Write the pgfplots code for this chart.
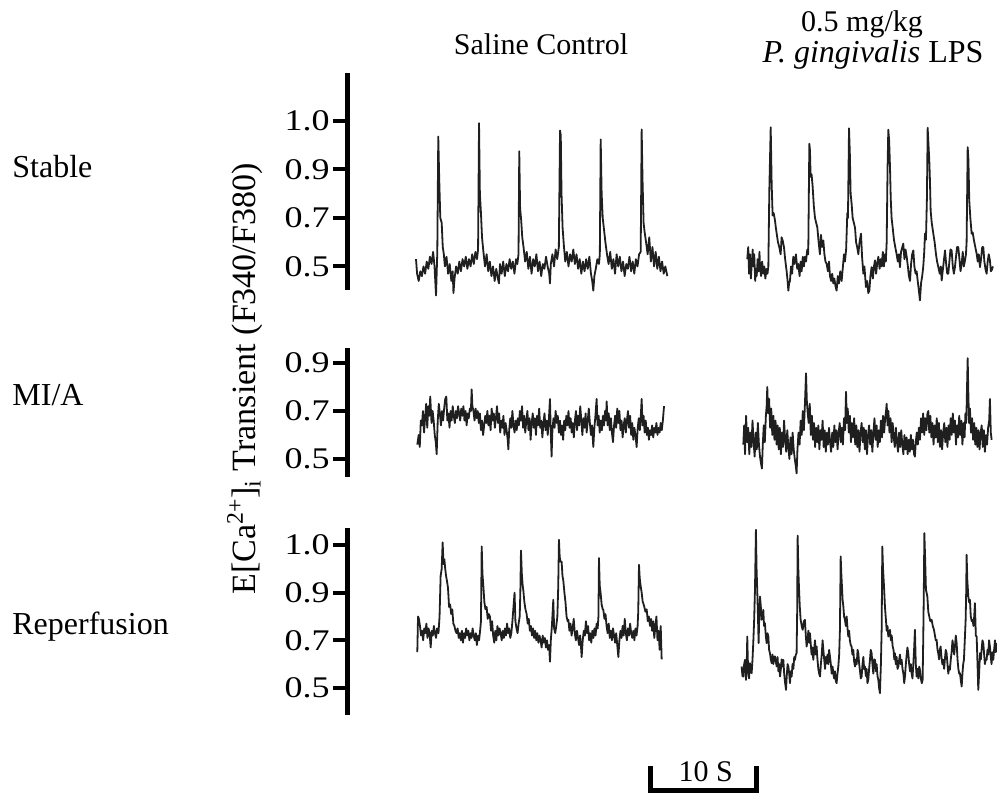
\documentclass[border=0pt]{standalone}
\usepackage{fontspec}
\setmainfont{Liberation Serif}
\newfontfamily\tickfont[FakeStretch=1.2]{Liberation Serif}
\usepackage{pgfplots}
\usepackage{pgfplotstable}
\pgfplotsset{compat=1.18}

% Stable, saline control
\pgfplotstableread{
t v
6.45 0.53
6.55 0.47
6.70 0.44
6.85 0.48
7.00 0.46
7.15 0.50
7.30 0.47
7.45 0.52
7.60 0.49
7.75 0.54
7.90 0.51
8.05 0.56
8.18 0.50
8.32 0.38
8.44 0.56
8.53 1.036
8.62 0.86
8.72 0.70
8.85 0.68
8.95 0.58
9.05 0.55
9.15 0.50
9.30 0.54
9.45 0.47
9.60 0.51
9.75 0.44
9.88 0.48
9.95 0.39
10.05 0.45
10.20 0.50
10.35 0.47
10.50 0.52
10.65 0.48
10.80 0.53
10.95 0.50
11.10 0.54
11.25 0.49
11.40 0.53
11.55 0.50
11.70 0.55
11.85 0.51
12.00 0.56
12.15 0.53
12.25 0.57
12.34 1.091
12.42 0.80
12.52 0.72
12.62 0.62
12.75 0.56
12.90 0.50
13.05 0.55
13.20 0.48
13.35 0.52
13.50 0.46
13.65 0.50
13.80 0.44
13.95 0.49
14.10 0.45
14.20 0.43
14.30 0.51
14.45 0.47
14.60 0.52
14.75 0.46
14.90 0.51
15.05 0.48
15.20 0.53
15.35 0.49
15.50 0.52
15.65 0.47
15.80 0.53
15.92 0.51
16.03 0.55
16.10 0.975
16.18 0.74
16.28 0.69
16.38 0.62
16.50 0.58
16.65 0.52
16.80 0.56
16.95 0.49
17.10 0.54
17.25 0.47
17.40 0.53
17.55 0.50
17.70 0.55
17.85 0.48
18.00 0.52
18.15 0.46
18.30 0.51
18.45 0.49
18.60 0.54
18.75 0.50
18.90 0.47
18.97 0.43
19.05 0.51
19.20 0.55
19.35 0.50
19.50 0.57
19.65 0.53
19.80 0.58
19.91 1.061
19.98 1.04
20.05 0.80
20.15 0.66
20.28 0.58
20.40 0.52
20.55 0.56
20.70 0.50
20.85 0.55
21.00 0.52
21.15 0.57
21.30 0.51
21.45 0.55
21.60 0.49
21.75 0.53
21.90 0.47
22.05 0.52
22.20 0.48
22.35 0.53
22.50 0.49
22.65 0.54
22.80 0.47
22.92 0.44
23.02 0.40
23.12 0.46
23.25 0.49
23.40 0.53
23.55 0.51
23.63 0.55
23.71 1.024
23.80 0.80
23.90 0.70
24.00 0.66
24.15 0.60
24.30 0.55
24.45 0.51
24.60 0.56
24.75 0.49
24.90 0.53
25.05 0.47
25.20 0.55
25.35 0.50
25.50 0.54
25.65 0.48
25.80 0.52
25.95 0.46
26.10 0.51
26.25 0.49
26.40 0.54
26.55 0.48
26.70 0.52
26.85 0.47
27.00 0.53
27.15 0.50
27.30 0.55
27.45 0.56
27.54 1.065
27.62 0.86
27.72 0.68
27.82 0.64
27.95 0.60
28.10 0.55
28.25 0.62
28.40 0.52
28.55 0.58
28.70 0.50
28.85 0.56
29.00 0.49
29.15 0.54
29.30 0.48
29.45 0.52
29.60 0.47
29.75 0.50
29.94 0.46
}\trA

% Stable, P. gingivalis LPS
\pgfplotstableread{
t v
37.41 0.53
37.50 0.58
37.58 0.47
37.66 0.55
37.75 0.45
37.84 0.52
37.92 0.57
37.97 0.50
38.06 0.55
38.15 0.44
38.22 0.49
38.29 0.46
38.38 0.53
38.47 0.48
38.55 0.56
38.60 0.50
38.70 0.46
38.80 0.52
38.91 0.47
39.00 0.50
39.10 0.45
39.22 0.49
39.30 0.47
39.38 0.50
39.47 0.81
39.60 1.074
39.69 0.84
39.78 0.71
39.88 0.72
40.00 0.69
40.08 0.66
40.16 0.635
40.28 0.60
40.40 0.58
40.53 0.55
40.62 0.62
40.72 0.607
40.84 0.58
40.95 0.53
41.09 0.48
41.18 0.44
41.25 0.40
41.32 0.43
41.40 0.44
41.50 0.50
41.60 0.47
41.71 0.54
41.82 0.51
41.96 0.55
42.08 0.49
42.18 0.51
42.30 0.46
42.40 0.52
42.49 0.48
42.60 0.54
42.70 0.50
42.80 0.54
42.90 0.52
43.02 0.57
43.11 0.55
43.21 1.006
43.27 0.98
43.33 0.87
43.42 0.88
43.52 0.83
43.63 0.75
43.74 0.70
43.85 0.68
43.96 0.66
44.08 0.60
44.20 0.55
44.30 0.63
44.40 0.58
44.52 0.607
44.62 0.55
44.72 0.52
44.83 0.51
44.95 0.48
45.05 0.52
45.14 0.46
45.25 0.44
45.35 0.47
45.45 0.43
45.55 0.45
45.65 0.42
45.76 0.40
45.87 0.46
45.98 0.43
46.10 0.48
46.23 0.44
46.35 0.50
46.45 0.55
46.54 0.52
46.65 0.57
46.76 0.72
46.82 0.70
46.92 1.070
47.00 0.96
47.07 0.80
47.16 0.76
47.26 0.70
47.37 0.68
47.48 0.66
47.58 0.60
47.68 0.58
47.79 0.55
47.90 0.60
48.04 0.635
48.14 0.54
48.26 0.47
48.36 0.50
48.50 0.415
48.62 0.44
48.72 0.39
48.82 0.40
48.92 0.46
49.03 0.497
49.15 0.45
49.25 0.50
49.35 0.525
49.45 0.47
49.55 0.51
49.66 0.54
49.78 0.49
49.88 0.53
49.97 0.50
50.08 0.56
50.18 0.50
50.28 0.55
50.36 0.52
50.44 0.60
50.52 0.90
50.59 1.064
50.67 1.02
50.75 0.91
50.82 0.78
50.90 0.70
51.00 0.66
51.12 0.61
51.24 0.58
51.37 0.55
51.48 0.52
51.58 0.55
51.68 0.497
51.78 0.56
51.90 0.58
51.99 0.594
52.10 0.53
52.20 0.57
52.31 0.54
52.42 0.50
52.52 0.46
52.62 0.44
52.72 0.51
52.82 0.55
52.93 0.566
53.03 0.50
53.14 0.47
53.24 0.48
53.34 0.44
53.45 0.40
53.55 0.36
53.65 0.43
53.76 0.46
53.86 0.50
53.95 0.56
54.02 0.635
54.11 0.61
54.20 0.78
54.27 1.072
54.35 1.00
54.42 0.94
54.48 0.86
54.55 0.73
54.65 0.68
54.80 0.635
54.92 0.60
55.05 0.55
55.15 0.52
55.27 0.497
55.40 0.47
55.50 0.50
55.58 0.442
55.70 0.49
55.80 0.53
55.89 0.566
56.00 0.51
56.10 0.47
56.20 0.47
56.30 0.52
56.40 0.57
56.51 0.566
56.62 0.50
56.72 0.47
56.82 0.497
56.92 0.54
57.02 0.58
57.13 0.58
57.24 0.53
57.34 0.48
57.45 0.511
57.55 0.56
57.65 0.50
57.76 0.525
57.85 0.55
57.91 0.60
58.01 0.992
58.08 0.94
58.16 0.77
58.26 0.70
58.38 0.635
58.48 0.64
58.60 0.607
58.72 0.58
58.85 0.552
58.95 0.52
59.05 0.55
59.16 0.497
59.26 0.53
59.37 0.58
59.47 0.58
59.57 0.52
59.67 0.49
59.78 0.47
59.88 0.52
59.98 0.55
60.09 0.525
60.18 0.48
60.25 0.484
60.37 0.50
}\trB

% MI/A, saline control
\pgfplotstableread{
t v
6.57 0.56
6.70 0.60
6.80 0.55
6.90 0.66
7.00 0.64
7.10 0.70
7.20 0.61
7.30 0.67
7.40 0.73
7.50 0.63
7.60 0.72
7.70 0.68
7.78 0.76
7.90 0.65
8.00 0.70
8.10 0.66
8.20 0.60
8.30 0.57
8.38 0.52
8.48 0.66
8.58 0.73
8.68 0.69
8.78 0.64
8.88 0.70
8.98 0.66
9.08 0.71
9.18 0.75
9.28 0.76
9.38 0.66
9.48 0.69
9.58 0.63
9.68 0.70
9.78 0.66
9.88 0.72
9.98 0.68
10.08 0.65
10.18 0.70
10.28 0.67
10.38 0.72
10.48 0.69
10.58 0.66
10.68 0.71
10.78 0.68
10.88 0.72
10.98 0.66
11.08 0.70
11.18 0.64
11.28 0.69
11.38 0.67
11.48 0.71
11.58 0.70
11.65 0.79
11.72 0.72
11.82 0.70
11.92 0.66
12.02 0.71
12.12 0.67
12.22 0.70
12.32 0.65
12.42 0.69
12.52 0.62
12.62 0.66
12.72 0.60
12.82 0.64
12.92 0.68
13.02 0.65
13.12 0.70
13.22 0.64
13.32 0.68
13.42 0.62
13.52 0.71
13.62 0.66
13.72 0.69
13.82 0.63
13.92 0.67
14.02 0.72
14.12 0.65
14.22 0.69
14.32 0.61
14.42 0.66
14.52 0.63
14.62 0.68
14.72 0.60
14.82 0.65
14.92 0.62
15.02 0.58
15.08 0.54
15.16 0.62
15.26 0.67
15.36 0.63
15.46 0.70
15.56 0.64
15.66 0.61
15.76 0.66
15.86 0.62
15.96 0.67
16.06 0.64
16.16 0.70
16.26 0.66
16.36 0.72
16.46 0.63
16.56 0.68
16.66 0.61
16.76 0.66
16.86 0.70
16.96 0.62
17.06 0.67
17.16 0.58
17.26 0.65
17.36 0.69
17.46 0.63
17.56 0.67
17.66 0.60
17.76 0.68
17.86 0.64
17.96 0.71
18.06 0.63
18.16 0.66
18.26 0.59
18.36 0.65
18.46 0.69
18.56 0.62
18.66 0.66
18.76 0.60
18.86 0.66
18.97 0.75
19.04 0.62
19.12 0.51
19.20 0.62
19.30 0.67
19.40 0.63
19.50 0.70
19.60 0.65
19.70 0.68
19.80 0.61
19.90 0.66
20.00 0.60
20.10 0.64
20.20 0.58
20.30 0.66
20.40 0.62
20.50 0.68
20.60 0.64
20.70 0.70
20.80 0.63
20.90 0.67
21.00 0.61
21.10 0.65
21.20 0.59
21.30 0.66
21.40 0.70
21.50 0.62
21.60 0.68
21.70 0.64
21.80 0.72
21.90 0.66
22.00 0.60
22.10 0.67
22.20 0.63
22.30 0.69
22.40 0.61
22.50 0.66
22.60 0.71
22.70 0.65
22.80 0.60
22.90 0.64
23.02 0.55
23.12 0.63
23.22 0.68
23.33 0.75
23.42 0.64
23.52 0.68
23.62 0.61
23.72 0.66
23.82 0.62
23.92 0.68
24.02 0.64
24.12 0.70
24.20 0.66
24.27 0.74
24.36 0.64
24.46 0.69
24.56 0.62
24.66 0.67
24.76 0.61
24.86 0.57
24.96 0.64
25.06 0.68
25.16 0.63
25.26 0.71
25.36 0.65
25.46 0.70
25.56 0.62
25.66 0.66
25.76 0.59
25.86 0.64
25.96 0.67
26.06 0.61
26.16 0.66
26.26 0.70
26.36 0.63
26.46 0.68
26.56 0.60
26.66 0.65
26.76 0.58
26.86 0.63
26.96 0.60
27.07 0.55
27.17 0.63
27.27 0.67
27.37 0.62
27.46 0.68
27.54 0.75
27.62 0.64
27.72 0.68
27.82 0.61
27.92 0.66
28.02 0.60
28.12 0.63
28.22 0.58
28.32 0.62
28.42 0.60
28.52 0.64
28.62 0.59
28.72 0.63
28.82 0.61
28.92 0.65
29.02 0.60
29.12 0.63
29.22 0.61
29.32 0.65
29.42 0.62
29.52 0.66
29.63 0.72
}\trC

% MI/A, P. gingivalis LPS
\pgfplotstableread{
t v
37.04 0.56
37.12 0.64
37.20 0.52
37.30 0.68
37.40 0.57
37.50 0.63
37.60 0.52
37.70 0.61
37.80 0.55
37.90 0.66
38.00 0.57
38.10 0.51
38.20 0.61
38.30 0.54
38.40 0.65
38.50 0.56
38.60 0.51
38.70 0.48
38.78 0.46
38.86 0.56
38.95 0.64
39.05 0.57
39.15 0.68
39.22 0.72
39.28 0.80
39.36 0.69
39.45 0.75
39.55 0.63
39.65 0.71
39.75 0.60
39.85 0.68
39.95 0.58
40.05 0.66
40.15 0.56
40.25 0.64
40.35 0.54
40.45 0.63
40.55 0.52
40.65 0.61
40.75 0.55
40.85 0.66
40.95 0.58
41.05 0.53
41.15 0.62
41.25 0.55
41.35 0.50
41.45 0.59
41.55 0.52
41.65 0.61
41.75 0.54
41.85 0.50
41.95 0.47
42.02 0.44
42.10 0.54
42.20 0.61
42.30 0.56
42.40 0.66
42.50 0.60
42.60 0.70
42.70 0.62
42.80 0.73
42.90 0.857
42.98 0.74
43.06 0.69
43.15 0.65
43.25 0.73
43.35 0.60
43.45 0.68
43.55 0.58
43.65 0.65
43.75 0.55
43.85 0.63
43.95 0.57
44.05 0.64
44.15 0.54
44.25 0.62
44.35 0.58
44.45 0.66
44.55 0.55
44.65 0.62
44.75 0.53
44.85 0.61
44.95 0.56
45.05 0.63
45.15 0.57
45.25 0.53
45.35 0.61
45.45 0.55
45.55 0.64
45.65 0.57
45.75 0.62
45.85 0.54
45.95 0.61
46.05 0.65
46.15 0.57
46.25 0.63
46.35 0.56
46.45 0.67
46.55 0.62
46.64 0.78
46.72 0.65
46.80 0.71
46.90 0.61
47.00 0.68
47.10 0.57
47.20 0.65
47.30 0.59
47.40 0.67
47.50 0.56
47.60 0.64
47.70 0.55
47.80 0.62
47.90 0.53
48.00 0.61
48.10 0.65
48.20 0.57
48.30 0.63
48.40 0.54
48.50 0.62
48.60 0.52
48.70 0.60
48.80 0.64
48.90 0.56
49.00 0.62
49.10 0.53
49.20 0.61
49.30 0.67
49.40 0.58
49.50 0.64
49.60 0.55
49.70 0.62
49.80 0.57
49.90 0.66
50.00 0.59
50.10 0.68
50.20 0.61
50.30 0.67
50.38 0.70
50.44 0.73
50.52 0.64
50.60 0.70
50.70 0.61
50.80 0.67
50.90 0.57
51.00 0.65
51.10 0.59
51.20 0.55
51.30 0.63
51.40 0.57
51.50 0.53
51.60 0.61
51.70 0.55
51.80 0.62
51.90 0.56
52.00 0.52
52.10 0.60
52.20 0.54
52.30 0.59
52.40 0.52
52.50 0.58
52.60 0.53
52.70 0.60
52.80 0.54
52.90 0.58
53.00 0.52
53.08 0.51
53.16 0.57
53.25 0.61
53.35 0.56
53.45 0.63
53.55 0.58
53.65 0.67
53.75 0.61
53.85 0.69
53.95 0.60
54.05 0.67
54.15 0.62
54.25 0.69
54.33 0.70
54.42 0.61
54.52 0.68
54.62 0.59
54.72 0.65
54.82 0.56
54.92 0.64
55.02 0.59
55.12 0.67
55.22 0.57
55.32 0.65
55.42 0.55
55.52 0.62
55.62 0.54
55.72 0.61
55.82 0.65
55.92 0.57
56.02 0.63
56.12 0.55
56.22 0.64
56.32 0.58
56.42 0.67
56.52 0.60
56.62 0.69
56.72 0.61
56.82 0.66
56.92 0.56
57.02 0.64
57.12 0.59
57.22 0.68
57.32 0.60
57.42 0.66
57.52 0.56
57.62 0.65
57.72 0.59
57.80 0.69
57.88 0.65
57.95 0.80
58.01 0.92
58.07 0.78
58.14 0.65
58.22 0.71
58.32 0.61
58.42 0.67
58.52 0.58
58.62 0.65
58.72 0.56
58.82 0.63
58.92 0.55
59.02 0.62
59.12 0.54
59.22 0.61
59.32 0.64
59.42 0.55
59.52 0.62
59.62 0.53
59.72 0.60
59.82 0.56
59.92 0.63
60.02 0.66
60.09 0.75
60.17 0.61
60.25 0.58
}\trD

% Reperfusion, saline control
\pgfplotstableread{
t v
6.57 0.65
6.64 0.80
6.72 0.79
6.82 0.76
6.92 0.72
7.02 0.74
7.12 0.70
7.22 0.75
7.32 0.73
7.42 0.77
7.52 0.71
7.62 0.75
7.72 0.73
7.82 0.67
7.92 0.74
8.02 0.72
8.12 0.76
8.22 0.73
8.32 0.71
8.42 0.75
8.55 0.73
8.65 0.80
8.75 0.97
8.85 1.00
8.94 1.111
9.02 1.02
9.10 1.04
9.18 1.00
9.26 0.97
9.34 0.95
9.44 0.92
9.54 0.84
9.64 0.85
9.74 0.81
9.84 0.83
9.94 0.77
10.04 0.76
10.14 0.74
10.24 0.73
10.34 0.75
10.44 0.71
10.54 0.73
10.64 0.70
10.74 0.74
10.84 0.69
10.94 0.73
11.04 0.71
11.14 0.75
11.24 0.72
11.34 0.74
11.44 0.70
11.54 0.73
11.64 0.71
11.74 0.75
11.84 0.72
11.94 0.70
12.04 0.73
12.14 0.68
12.24 0.72
12.34 0.70
12.44 0.74
12.52 0.78
12.59 1.094
12.66 0.98
12.74 0.93
12.84 0.86
12.94 0.83
13.05 0.84
13.15 0.79
13.26 0.81
13.36 0.80
13.46 0.74
13.56 0.78
13.66 0.72
13.76 0.69
13.86 0.74
13.96 0.70
14.06 0.76
14.16 0.72
14.26 0.75
14.36 0.73
14.46 0.70
14.56 0.74
14.66 0.71
14.76 0.75
14.86 0.72
14.96 0.77
15.06 0.73
15.16 0.75
15.26 0.71
15.36 0.73
15.46 0.78
15.56 0.84
15.66 0.90
15.74 0.78
15.84 0.75
15.94 0.73
16.04 0.77
16.14 0.80
16.20 0.90
16.26 1.077
16.34 0.98
16.42 0.93
16.48 0.91
16.58 0.86
16.68 0.83
16.79 0.81
16.89 0.77
16.99 0.79
17.09 0.74
17.19 0.76
17.29 0.72
17.39 0.75
17.49 0.71
17.59 0.74
17.69 0.70
17.79 0.73
17.89 0.69
17.99 0.72
18.09 0.70
18.19 0.67
18.29 0.72
18.39 0.69
18.49 0.71
18.59 0.67
18.69 0.70
18.79 0.66
18.89 0.68
18.97 0.61
19.05 0.70
19.15 0.76
19.28 0.87
19.36 0.75
19.46 0.73
19.56 0.76
19.66 0.80
19.74 0.92
19.81 1.122
19.88 1.05
19.96 1.03
20.06 1.03
20.14 0.97
20.22 0.95
20.32 0.90
20.42 0.86
20.52 0.80
20.62 0.78
20.69 0.786
20.79 0.74
20.89 0.77
20.99 0.72
21.09 0.75
21.19 0.79
21.29 0.73
21.39 0.70
21.49 0.74
21.59 0.71
21.69 0.68
21.79 0.72
21.89 0.66
21.93 0.63
22.03 0.70
22.13 0.74
22.23 0.72
22.33 0.78
22.43 0.73
22.53 0.76
22.63 0.70
22.73 0.73
22.83 0.69
22.93 0.74
23.03 0.71
23.13 0.75
23.23 0.72
23.33 0.77
23.43 0.75
23.50 0.80
23.55 1.045
23.62 0.93
23.70 0.90
23.80 0.85
23.90 0.83
23.96 0.828
24.06 0.79
24.16 0.81
24.26 0.76
24.36 0.73
24.46 0.77
24.56 0.71
24.66 0.74
24.76 0.70
24.86 0.75
24.96 0.72
25.06 0.69
25.16 0.73
25.26 0.68
25.36 0.63
25.46 0.70
25.56 0.74
25.66 0.71
25.76 0.76
25.86 0.72
25.96 0.79
26.06 0.73
26.16 0.70
26.26 0.75
26.36 0.72
26.46 0.77
26.56 0.73
26.66 0.71
26.76 0.74
26.86 0.70
26.96 0.75
27.06 0.72
27.16 0.76
27.22 0.82
27.29 1.017
27.36 0.96
27.44 0.93
27.54 0.90
27.64 0.86
27.69 0.856
27.79 0.84
27.89 0.82
28.01 0.83
28.11 0.78
28.21 0.80
28.32 0.76
28.42 0.79
28.52 0.74
28.62 0.78
28.72 0.71
28.82 0.76
28.92 0.80
29.02 0.70
29.12 0.74
29.22 0.66
29.32 0.76
29.41 0.62
}\trE

% Reperfusion, P. gingivalis LPS
\pgfplotstableread{
t v
36.88 0.590
36.96 0.55
37.04 0.548
37.12 0.60
37.20 0.618
37.29 0.534
37.36 0.60
37.41 0.716
37.46 0.62
37.51 0.562
37.58 0.54
37.66 0.604
37.74 0.58
37.82 0.562
37.90 0.62
37.97 0.688
38.05 0.78
38.13 0.912
38.22 1.164
38.28 1.00
38.35 0.898
38.41 0.80
38.47 0.688
38.54 0.82
38.60 0.884
38.68 0.84
38.75 0.786
38.83 0.80
38.91 0.828
38.98 0.76
39.06 0.772
39.14 0.72
39.22 0.688
39.30 0.73
39.38 0.716
39.45 0.66
39.53 0.646
39.61 0.62
39.69 0.604
39.77 0.64
39.85 0.60
39.92 0.63
40.00 0.632
40.08 0.61
40.16 0.590
40.24 0.63
40.32 0.57
40.40 0.60
40.47 0.548
40.55 0.58
40.62 0.62
40.70 0.59
40.78 0.618
40.86 0.56
40.95 0.52
41.03 0.492
41.10 0.55
41.18 0.60
41.25 0.590
41.33 0.56
41.40 0.52
41.48 0.57
41.56 0.548
41.64 0.60
41.72 0.58
41.80 0.63
41.87 0.618
41.95 0.64
42.02 0.646
42.07 0.80
42.12 1.139
42.18 1.00
42.24 0.926
42.32 0.84
42.40 0.786
42.50 0.76
42.59 0.744
42.70 0.78
42.80 0.786
42.88 0.72
42.96 0.674
43.04 0.70
43.12 0.74
43.20 0.69
43.27 0.730
43.35 0.68
43.42 0.64
43.50 0.67
43.58 0.618
43.66 0.66
43.74 0.70
43.82 0.64
43.89 0.674
43.97 0.62
44.05 0.58
44.13 0.56
44.21 0.548
44.29 0.60
44.37 0.64
44.45 0.70
44.52 0.660
44.60 0.62
44.68 0.58
44.76 0.63
44.83 0.604
44.91 0.64
44.98 0.60
45.06 0.66
45.14 0.632
45.22 0.60
45.30 0.56
45.38 0.59
45.45 0.562
45.53 0.54
45.60 0.57
45.68 0.53
45.76 0.520
45.84 0.56
45.92 0.590
46.00 0.64
46.07 0.744
46.14 1.052
46.20 0.98
46.26 0.926
46.32 0.87
46.39 0.842
46.46 0.80
46.54 0.786
46.62 0.76
46.70 0.800
46.78 0.75
46.85 0.716
46.93 0.74
47.00 0.70
47.08 0.68
47.16 0.674
47.24 0.64
47.32 0.66
47.40 0.61
47.48 0.590
47.56 0.62
47.64 0.60
47.72 0.66
47.79 0.646
47.87 0.60
47.95 0.57
48.02 0.54
48.10 0.548
48.18 0.60
48.26 0.63
48.33 0.58
48.41 0.590
48.49 0.55
48.57 0.58
48.64 0.52
48.72 0.534
48.80 0.58
48.88 0.62
48.95 0.66
49.03 0.646
49.11 0.60
49.19 0.56
49.27 0.62
49.35 0.618
49.43 0.57
49.50 0.60
49.58 0.55
49.66 0.534
49.73 0.50
49.81 0.478
49.90 0.60
49.97 0.744
50.03 1.094
50.10 1.00
50.19 0.926
50.28 0.84
50.37 0.786
50.44 0.74
50.52 0.76
50.59 0.716
50.67 0.73
50.75 0.744
50.83 0.70
50.91 0.72
51.00 0.674
51.08 0.66
51.15 0.62
51.21 0.646
51.29 0.60
51.37 0.63
51.45 0.58
51.53 0.590
51.61 0.62
51.68 0.64
51.76 0.60
51.84 0.618
51.92 0.58
52.00 0.56
52.08 0.52
52.15 0.548
52.23 0.60
52.31 0.64
52.38 0.67
52.46 0.646
52.54 0.60
52.62 0.57
52.70 0.60
52.77 0.562
52.85 0.54
52.93 0.60
53.00 0.66
53.08 0.744
53.16 0.60
53.24 0.548
53.32 0.58
53.40 0.54
53.48 0.59
53.55 0.576
53.63 0.54
53.72 0.52
53.80 0.534
53.86 0.716
53.91 0.90
53.96 1.150
54.03 1.05
54.11 0.912
54.17 0.90
54.24 0.884
54.33 0.82
54.42 0.800
54.52 0.78
54.64 0.786
54.75 0.76
54.86 0.744
54.95 0.72
55.03 0.70
55.11 0.702
55.19 0.66
55.26 0.646
55.34 0.62
55.41 0.66
55.48 0.674
55.56 0.63
55.64 0.60
55.73 0.618
55.81 0.58
55.88 0.62
55.96 0.66
56.04 0.646
56.12 0.60
56.20 0.56
56.28 0.59
56.35 0.576
56.43 0.62
56.51 0.65
56.59 0.70
56.67 0.674
56.75 0.64
56.83 0.68
56.90 0.72
56.98 0.688
57.06 0.62
57.14 0.58
57.22 0.56
57.29 0.562
57.37 0.53
57.45 0.506
57.52 0.56
57.59 0.60
57.66 0.618
57.74 0.70
57.82 0.786
57.87 0.90
57.91 1.059
57.98 0.95
58.07 0.884
58.14 0.86
58.22 0.870
58.30 0.80
58.39 0.78
58.47 0.786
58.55 0.76
58.62 0.80
58.69 0.856
58.77 0.72
58.85 0.716
58.93 0.60
59.00 0.492
59.08 0.56
59.16 0.646
59.24 0.62
59.31 0.66
59.39 0.70
59.47 0.688
59.55 0.64
59.62 0.60
59.70 0.62
59.78 0.618
59.86 0.66
59.93 0.64
60.01 0.70
60.09 0.674
60.17 0.63
60.24 0.60
60.32 0.65
60.40 0.618
60.48 0.66
60.56 0.70
60.64 0.65
60.72 0.688
}\trF

\pgfplotsset{
  rowaxis/.style={
    scale only axis, width=325pt, xmin=0, xmax=60.75,
    axis x line=none, axis y line*=left,
    y axis line style={-, line width=2.5pt, line cap=rect},
    ytick style={line width=2pt, black},
    major tick length=7pt, tick align=outside,
    yticklabel style={font=\tickfont\fontsize{15}{18}\selectfont, inner sep=1.5pt},
    clip=false, anchor=south west,
  },
  trace/.style={line width=0.9pt, black!88, line join=round, no markers},
}

\begin{document}
\begin{tikzpicture}
\useasboundingbox (0,0) rectangle (498.5pt,-397pt);

% Row 1: Stable
\begin{axis}[rowaxis, at={(173.5pt,-143.75pt)}, height=106pt,
  ymin=0.413, ymax=1.2876,
  ytick={0.5,0.7,0.9,1.1}, yticklabels={0.5,0.7,0.9,1.0}]
\addplot[trace] table[x=t,y=v] {\trA};
\addplot[trace] table[x=t,y=v] {\trB};
\end{axis}

% Row 2: MI/A
\begin{axis}[rowaxis, at={(173.5pt,-237pt)}, height=62pt,
  ymin=0.4375, ymax=0.954,
  ytick={0.5,0.7,0.9}, yticklabels={0.5,0.7,0.9}]
\addplot[trace] table[x=t,y=v] {\trC};
\addplot[trace] table[x=t,y=v] {\trD};
\end{axis}

% Row 3: Reperfusion
\begin{axis}[rowaxis, at={(173.5pt,-356pt)}, height=91pt,
  ymin=0.399, ymax=1.163,
  ytick={0.5,0.7,0.9,1.1}, yticklabels={0.5,0.7,0.9,1.0}]
\addplot[trace] table[x=t,y=v] {\trE};
\addplot[trace] table[x=t,y=v] {\trF};
% 10 s scale bar
\draw[line width=2.5pt, line cap=rect, line join=miter]
  (axis cs:28.32,0.1626) -- (axis cs:28.32,0.0714) -- (axis cs:38.29,0.0714) -- (axis cs:38.29,0.1626);
\node[anchor=base, inner sep=0pt, font=\fontsize{15}{18}\selectfont] at (axis cs:33.53,0.1063) {10 S};
\end{axis}

% Column titles
\node[anchor=base, inner sep=0pt, font=\fontsize{15}{18}\selectfont] at (270.5pt,-27pt) {Saline Control};
\node[anchor=base, inner sep=0pt, font=\fontsize{15}{18}\selectfont] at (431pt,-15.5pt) {0.5 mg/kg};
\node[anchor=base, inner sep=0pt, font=\fontsize{16}{19}\selectfont] at (436.5pt,-31pt) {\textit{P. gingivalis} LPS};

% Row labels
\node[anchor=base west, inner sep=0pt, font=\fontsize{16}{19}\selectfont] at (6pt,-88.6pt) {Stable};
\node[anchor=base west, inner sep=0pt, font=\fontsize{16}{19}\selectfont] at (6pt,-202.5pt) {MI/A};
\node[anchor=base west, inner sep=0pt, font=\fontsize{16}{19}\selectfont] at (6pt,-317.2pt) {Reperfusion};

% Y-axis title
\node[rotate=90, inner sep=0pt, font=\fontsize{17}{20}\selectfont] at (122.5pt,-189.5pt)
  {E[Ca\textsuperscript{2+}]\textsubscript{i} Transient (F340/F380)};
\end{tikzpicture}
\end{document}
